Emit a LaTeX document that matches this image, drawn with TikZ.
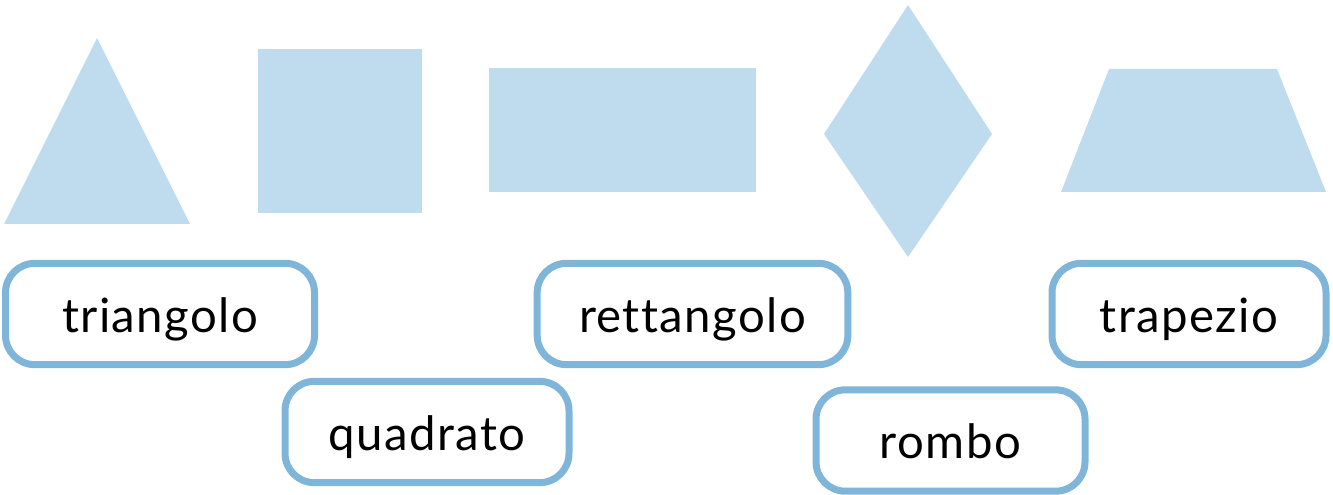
\documentclass[tikz,border=0pt]{standalone}
\usepackage{fontspec}
\setmainfont{Lato}[Ligatures=NoCommon,LetterSpace=3]
\definecolor{shapefill}{HTML}{BFDBEE}
\definecolor{boxline}{HTML}{80B5DA}
\begin{document}
\begin{tikzpicture}[x=0.75pt,y=-0.75pt,
  shapestyle/.style={fill=shapefill,draw=none},
  labelbox/.style={draw=boxline,line width=5.25pt,rounded corners=22pt,fill=white,
    minimum height=76pt,inner sep=0pt,text height=27pt,text depth=0pt,
    font=\fontsize{35.5}{40}\selectfont,text=black}]
\useasboundingbox (0,0) rectangle (1333,495);
% shapes
\fill[shapestyle] (97,38) -- (190,224) -- (4,224) -- cycle;
\fill[shapestyle] (258,49) rectangle (422,213);
\fill[shapestyle] (489,68) rectangle (756,192);
\fill[shapestyle] (908,5) -- (992,134) -- (908,257) -- (824,134) -- cycle;
\fill[shapestyle] (1109,69) -- (1277,69) -- (1326,192) -- (1061,192) -- cycle;
% labels
\node[labelbox,minimum width=231.75pt] (tri) at (160,314) {triangolo};
\node[labelbox,minimum width=213pt] (quad) at (427,432) {quadrato};
\node[labelbox,minimum width=233pt] (rett) at (692.5,314) {rettangolo};
\node[labelbox,minimum width=201.75pt] (romb) at (950.5,440.5) {rombo};
\node[labelbox,minimum width=205.5pt] (trap) at (1189,314) {trapezio};
\end{tikzpicture}
\end{document}
